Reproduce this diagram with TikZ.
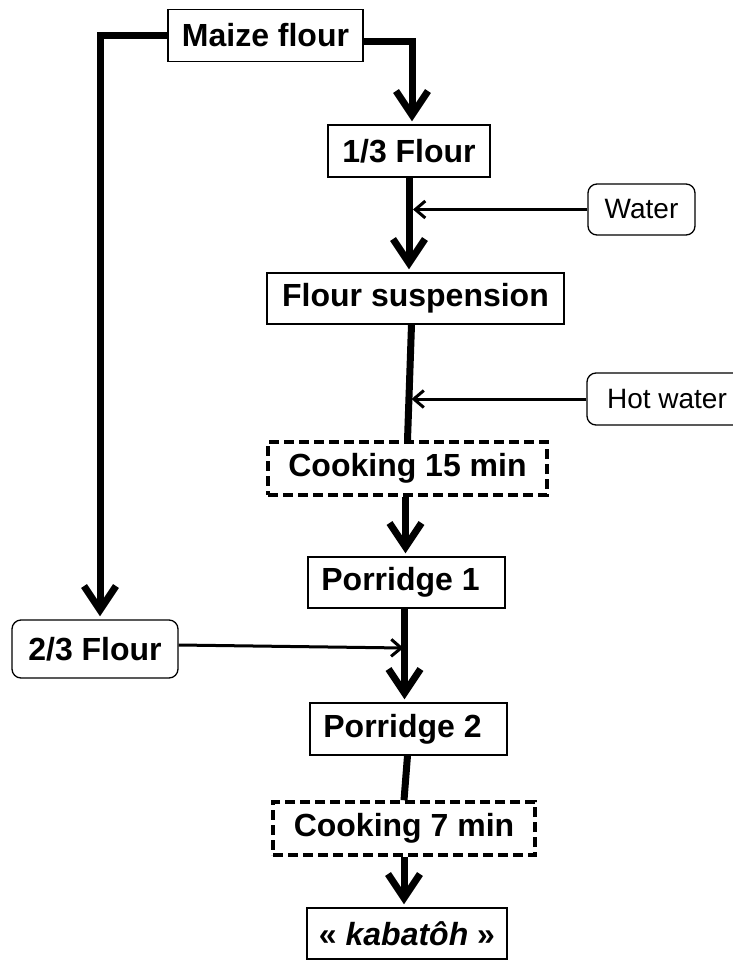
\documentclass[tikz,border=0pt]{standalone}
\usepackage{fontspec}
\setmainfont{Liberation Sans}
\usetikzlibrary{arrows.meta}
\tikzset{
	stepbox/.style={draw, line width=1.3pt, minimum height=52pt, inner sep=0pt, font=\fontsize{32}{38}\selectfont\bfseries},
	cookbox/.style={stepbox, line width=3.5pt, dash pattern=on 10pt off 5pt},
	inbox/.style={draw, rounded corners=9pt, line width=1.3pt, minimum height=52pt, inner sep=0pt, font=\fontsize{28}{34}\selectfont},
	mainline/.style={line width=7pt},
	flow/.style={mainline, shorten >=3pt, -{Straight Barb[length=24pt,width=32pt,sharp]}},
	feed/.style={line width=3pt, -{Straight Barb[length=10pt,width=17pt]}},
}

\begin{document}
\begin{tikzpicture}[x=1pt, y=-1pt]
		%%%%% START %%%%%
		\useasboundingbox (0, 0) rectangle (733, 961);
		
		\node[stepbox, minimum width=195pt] (maize) at (265.5, 35.5) {Maize flour};
		\node[stepbox, minimum width=162pt] (third) at (409, 151) {1/3 Flour};
		\node[inbox, minimum width=107pt, minimum height=51pt] (water) at (641.5, 209.5) {Water};
		\node[stepbox, minimum width=297pt, minimum height=51pt] (susp) at (415.5, 298.5) {Flour suspension};
		\node[inbox, minimum width=160pt] (hot) at (667, 399) {Hot water};
		\node[cookbox, minimum width=279pt, minimum height=53pt] (cookA) at (407.5, 468.5) {Cooking 15 min};
		\node[stepbox, minimum width=197pt, minimum height=51pt] (porA) at (406.5, 582.5) {Porridge 1\hspace*{12pt}};
		\node[inbox, minimum width=166pt, minimum height=58pt, font=\fontsize{32}{38}\selectfont\bfseries] (rest) at (95, 649) {2/3 Flour};
		\node[stepbox, minimum width=197pt] (porB) at (408.5, 729) {Porridge 2\hspace*{12pt}};
		\node[cookbox, minimum width=262pt, minimum height=53pt] (cookB) at (404, 828.5) {Cooking 7 min};
		\node[stepbox, minimum width=200pt, minimum height=51pt] (kaba) at (407, 933.5) {« \textit{kabatôh} »};
		
		\coordinate (restin) at ([xshift=5pt]rest.north);
		\coordinate (waterin) at ([xshift=4pt]third.south |- water.west);
		\coordinate (hotin) at ([xshift=4pt]cookA.north |- hot.west);
		\coordinate (flourin) at ([xshift=-3pt]porA.south |- 0, 648);
		
		\draw[flow] (maize.west) -| (restin);
		\draw[flow] ([yshift=-6pt]maize.east) -| ([xshift=3pt]third.north);
		\draw[flow] (third.south) -- (third.south |- susp.north);
		\draw[mainline] ([xshift=-4pt]susp.south) -- (cookA.north);
		\draw[flow] ([xshift=-2pt]cookA.south) -- ([xshift=-2pt]cookA.south |- porA.north);
		\draw[flow] ([xshift=-2pt]porA.south) -- ([xshift=-2pt]porA.south |- porB.north);
		\draw[mainline] ([xshift=-1pt]porB.south) -- (cookB.north);
		\draw[flow] (cookB.south) -- (cookB.south |- kaba.north);
		
		\draw[feed] (water.west) -- (waterin);
		\draw[feed] (hot.west) -- (hotin);
		\draw[feed] ([yshift=4pt]rest.east) -- (flourin);
		%%%%% END %%%%%
\end{tikzpicture}
\end{document}
